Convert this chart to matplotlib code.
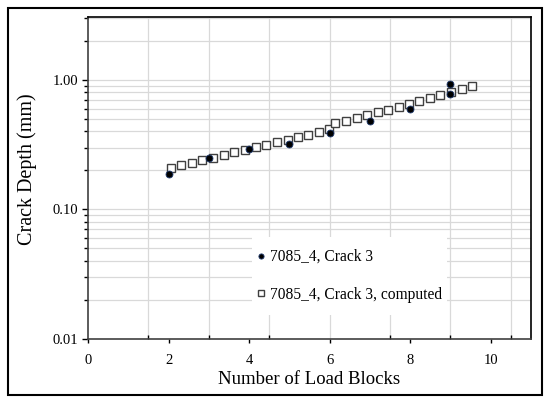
import matplotlib
matplotlib.use("Agg")
import matplotlib.pyplot as plt
import numpy as np
from matplotlib.patches import Rectangle
from matplotlib.ticker import FixedLocator, NullFormatter, NullLocator

plt.rcParams["font.family"] = ["Liberation Serif", "DejaVu Serif"]

# measured crack depth
blocks_meas = [2, 3, 4, 5, 6, 7, 8, 9, 9]
depth_meas = [0.189, 0.247, 0.290, 0.319, 0.387, 0.483, 0.591, 0.780, 0.933]

# computed crack depth
blocks_comp = [2.07, 2.32, 2.58, 2.84, 3.11, 3.37, 3.63, 3.90, 4.17, 4.42,
               4.69, 4.96, 5.21, 5.47, 5.74, 5.98, 6.13, 6.41, 6.68, 6.93,
               7.19, 7.44, 7.71, 7.97, 8.23, 8.49, 8.75, 9.01, 9.28, 9.54]
depth_comp = [0.208, 0.220, 0.228, 0.239, 0.251, 0.263, 0.275, 0.288, 0.304, 0.315,
              0.329, 0.345, 0.364, 0.377, 0.394, 0.418, 0.460, 0.483, 0.506, 0.535,
              0.561, 0.585, 0.617, 0.652, 0.684, 0.717, 0.761, 0.798, 0.848, 0.895]

x_labels = [0, 2, 4, 6, 8, 10]
x_grid = [1.5, 3, 4.5, 6, 7.5, 9, 10.5]
y_labels = [0.01, 0.1, 1.0]

fig = plt.figure(figsize=(5.5, 4.03), dpi=100)
ax = fig.add_axes([88 / 550, 64 / 403, 443 / 550, 322 / 403])

y_minor = [m * d for d in (0.01, 0.1, 1.0) for m in range(2, 10)]
y_minor = [v for v in y_minor if v < 3.05]

ax.set_yscale("log")
ax.set_xlim(0, 11)
ax.set_ylim(0.01, 3.05)

ax.yaxis.set_major_locator(FixedLocator(y_labels))
ax.yaxis.set_minor_locator(FixedLocator(y_minor))
ax.yaxis.set_minor_formatter(NullFormatter())
ax.set_yticklabels([f"{v:.2f}" for v in y_labels])

ax.xaxis.set_major_locator(FixedLocator(x_labels))
ax.xaxis.set_minor_locator(FixedLocator(x_grid))

for v in y_labels[1:] + y_minor:
    ax.axhline(v, color="#d9d9d9", lw=0.9, zorder=0)
for v in x_grid:
    ax.axvline(v, color="#d9d9d9", lw=0.9, zorder=0)

ax.tick_params(axis="y", which="major", direction="out", length=4, width=1, labelsize=10.5, pad=3)
ax.tick_params(axis="y", which="minor", direction="out", length=3, width=1)
ax.tick_params(axis="x", which="major", direction="out", length=3, width=1, labelsize=10.5, pad=7.5)
ax.tick_params(axis="x", which="minor", direction="in", length=3, width=1)

for side in ("left", "bottom", "right", "top"):
    ax.spines[side].set_linewidth(1.2)
ax.spines["left"].set_color("#404040")
ax.spines["bottom"].set_color("#404040")
ax.spines["right"].set_color("black")
ax.spines["top"].set_color("black")

ax.plot(blocks_comp, depth_comp, ls="none", marker="s", ms=6, mfc="white",
        mec="#404040", mew=1.0, label="7085_4, Crack 3, computed", zorder=3)
ax.plot(blocks_meas, depth_meas, ls="none", marker="o", ms=5, mfc="black",
        mec="#1f3a6e", mew=0.6, label="7085_4, Crack 3", zorder=4)

ax.set_xlabel("Number of Load Blocks", fontsize=13.5, labelpad=3)
ax.set_ylabel("Crack Depth (mm)", fontsize=14.5)
ax.yaxis.set_label_coords(-51 / 443, (338 - 168.5) / 322)

# white legend area hiding the gridlines
ax.add_patch(Rectangle((252 / 550, 1 - 315 / 403), 195 / 550, 78 / 403,
                       transform=fig.transFigure, facecolor="white",
                       edgecolor="none", zorder=1))

handles, labels = ax.get_legend_handles_labels()
leg = ax.legend(handles[::-1], labels[::-1], loc="center",
                bbox_to_anchor=(349.5 / 550, 1 - 276 / 403),
                bbox_transform=fig.transFigure, frameon=False, fontsize=11.2,
                handlelength=0.6, handletextpad=0.3, labelspacing=1.4,
                borderpad=0.0, borderaxespad=0, markerscale=0.75)

fig.patches.append(Rectangle((8 / 550, 8 / 403), 534 / 550, 387 / 403,
                             transform=fig.transFigure, fill=False,
                             edgecolor="black", lw=1.5))

fig.savefig("out.png", dpi=100)
